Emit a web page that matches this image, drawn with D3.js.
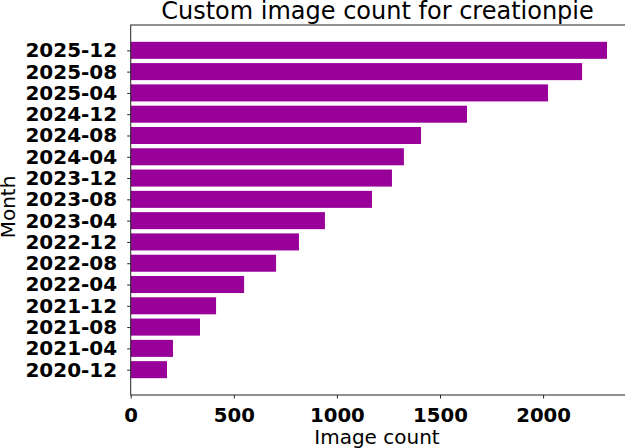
<!DOCTYPE html>
<html><head><meta charset="utf-8">
<script src="https://cdn.jsdelivr.net/npm/d3@7"></script>
<style>body{margin:0;background:#fff}svg{display:block}</style>
</head><body><svg id="c" width="625" height="448"></svg>
<script>
const months = ["2020-12","2021-04","2021-08","2021-12","2022-04","2022-08","2022-12","2023-04","2023-08","2023-12","2024-04","2024-08","2024-12","2025-04","2025-08","2025-12"];
const counts = [176,205,336,414,550,705,816,942,1170,1267,1325,1408,1631,2024,2189,2310];
const xTicks = [0,500,1000,1500,2000];

const svg = d3.select("#c");
const m = {left:130.7, top:25, bottom:395};
const xmax = d3.max(counts)*1.05;
const x = d3.scaleLinear().domain([0, xmax]).range([m.left, m.left + xmax*0.2062]);
const n = months.length;
const y = d3.scaleLinear().domain([-1.19, n-1+1.19]).range([m.bottom, m.top]);
const bh = (y(0) - y(1)) * 0.8;

const font = "DejaVu Sans";
svg.append("g").selectAll("rect").data(months).join("rect")
  .attr("x", x(0)).attr("y", (d,i)=>y(i)-bh/2)
  .attr("width", (d,i)=>x(counts[i])-x(0)).attr("height", bh)
  .attr("fill", "#990099");

svg.append("rect").attr("x", x(0)).attr("y", m.top).attr("width", x.range()[1]-x(0)).attr("height", m.bottom-m.top)
  .attr("fill","none").attr("stroke","#222").attr("stroke-width",1);

const xa = svg.append("g").attr("transform",`translate(0,${m.bottom})`)
  .call(d3.axisBottom(x).tickValues(xTicks).tickSize(3.5).tickSizeOuter(0).tickPadding(9.5).tickFormat(d3.format("d")));
xa.select(".domain").remove();
xa.selectAll("text").attr("font-family",font).attr("font-weight","bold").attr("font-size",19.7).attr("fill","#000");
xa.selectAll("line").attr("stroke","#222");

const ya = svg.append("g").attr("transform",`translate(${m.left},0)`)
  .call(d3.axisLeft(y).tickValues(d3.range(n)).tickFormat(i=>months[i]).tickSize(3.5).tickPadding(10));
ya.select(".domain").remove();
ya.selectAll("text").attr("font-family",font).attr("font-weight","bold").attr("font-size",20).attr("fill","#000");
ya.selectAll("line").attr("stroke","#222");

svg.append("text").attr("x",377.5).attr("y",19).attr("text-anchor","middle")
  .attr("font-family",font).attr("font-size",24).text("Custom image count for creationpie");
svg.append("text").attr("x",377).attr("y",443.5).attr("text-anchor","middle")
  .attr("font-family",font).attr("font-size",20).text("Image count");
svg.append("text").attr("transform","translate(14.5,207) rotate(-90)").attr("text-anchor","middle")
  .attr("font-family",font).attr("font-size",20).text("Month");
</script></body></html>
